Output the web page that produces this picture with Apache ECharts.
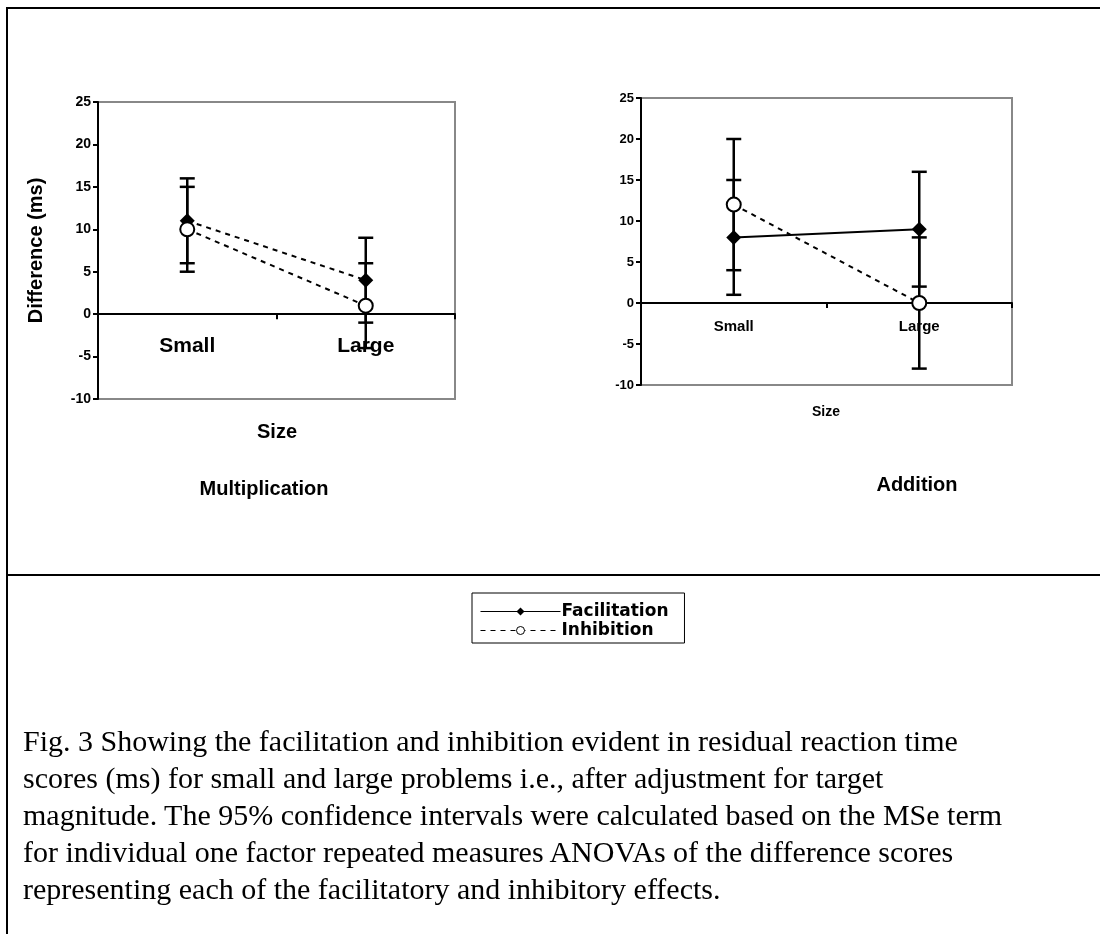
<!DOCTYPE html>
<html>
<head>
<meta charset="utf-8">
<script src="https://cdn.jsdelivr.net/npm/echarts@6/dist/echarts.min.js"></script>
<style>
html, body { margin: 0; padding: 0; background: #fff; }
#page { position: relative; width: 1100px; height: 934px; overflow: hidden; }
#chart { position: absolute; left: 0; top: 0; width: 1100px; height: 934px; }
.rule { position: absolute; background: #000; }
#caption {
    position: absolute; left: 23px; top: 722px; width: 1070px;
    font-family: "Liberation Serif", "Times New Roman", serif;
    font-size: 30px; line-height: 37px; color: #000;
}
</style>
</head>
<body>
<div id="page">
    <div class="rule" style="left:6px;top:7px;width:1094px;height:2px;"></div>
    <div class="rule" style="left:6px;top:7px;width:2px;height:927px;"></div>
    <div class="rule" style="left:6px;top:574px;width:1094px;height:2px;"></div>
    <div id="chart"></div>
    <div id="caption">Fig. 3 Showing the facilitation and inhibition evident in residual reaction time<br>scores (ms) for small and large problems i.e., after adjustment for target<br>magnitude. The 95% confidence intervals were calculated based on the MSe term<br>for individual one factor repeated measures ANOVAs of the difference scores<br>representing each of the facilitatory and inhibitory effects.</div>
</div>
<script>
// data
var sizes = ['Small', 'Large'];
var mulFacil = [11, 4];
var mulInhib = [10, 1];
var mulFacilCI = [5, 5];
var mulInhibCI = [5, 5];
var addFacil = [8, 9];
var addInhib = [12, 0];
var addFacilCI = [7, 7];
var addInhibCI = [8, 8];
var yMin = -10, yMax = 25, yStep = 5;

var sans = '"Liberation Sans", Arial, sans-serif';

function bars(values, ci) {
    return values.map(function (v, i) { return [i, v - ci[i], v + ci[i]]; });
}

function errorBar(params, api) {
    var top = api.coord([api.value(0), api.value(2)]);
    var bot = api.coord([api.value(0), api.value(1)]);
    var w = 7.5;
    var st = { stroke: '#000', lineWidth: 2.5 };
    return {
        type: 'group',
        children: [
            { type: 'line', shape: { x1: top[0], y1: top[1], x2: bot[0], y2: bot[1] }, style: st },
            { type: 'line', shape: { x1: top[0] - w, y1: top[1], x2: top[0] + w, y2: top[1] }, style: st },
            { type: 'line', shape: { x1: bot[0] - w, y1: bot[1], x2: bot[0] + w, y2: bot[1] }, style: st }
        ]
    };
}

function xAx(grid, size, margin) {
    return {
        type: 'category', gridIndex: grid, data: sizes,
        axisLine: { onZero: true, lineStyle: { color: '#000', width: 2 } },
        axisTick: { show: true, length: 5, lineStyle: { color: '#000', width: 2 } },
        axisLabel: { color: '#000', fontWeight: 'bold', fontSize: size, fontFamily: sans, margin: margin },
        splitLine: { show: false }
    };
}

function yAx(grid, size, name) {
    return {
        type: 'value', gridIndex: grid, min: yMin, max: yMax, interval: yStep,
        name: name, nameLocation: 'middle', nameRotate: 90, nameGap: 52,
        nameTextStyle: { color: '#000', fontWeight: 'bold', fontSize: 20, fontFamily: sans },
        axisLine: { show: true, onZero: false, lineStyle: { color: '#000', width: 2 } },
        axisTick: { show: true, length: 5, lineStyle: { color: '#000', width: 2 } },
        axisLabel: { color: '#000', fontWeight: 'bold', fontSize: size, fontFamily: sans, margin: 7 },
        splitLine: { show: false }
    };
}

function lineSeries(name, grid, values, symbol, size, dashed) {
    return {
        name: name, type: 'line', xAxisIndex: grid, yAxisIndex: grid, data: values,
        symbol: symbol, symbolSize: size, z: 5,
        lineStyle: { color: '#000', width: 2, type: dashed ? [5, 5] : 'solid' },
        itemStyle: symbol === 'diamond'
            ? { color: '#000' }
            : { color: '#fff', borderColor: '#000', borderWidth: 2 }
    };
}

function barSeries(grid, values, ci) {
    return {
        type: 'custom', xAxisIndex: grid, yAxisIndex: grid, z: 2,
        data: bars(values, ci), renderItem: errorBar,
        encode: { x: 0, y: [1, 2] }, silent: true
    };
}

var chart = echarts.init(document.getElementById('chart'));
chart.setOption({
    animation: false,
    grid: [
        { left: 98, top: 102, width: 357, height: 297, show: true, borderColor: '#888', borderWidth: 2 },
        { left: 641, top: 98, width: 371, height: 287, show: true, borderColor: '#888', borderWidth: 2 }
    ],
    xAxis: [xAx(0, 21, -63), xAx(1, 15, -66)],
    yAxis: [yAx(0, 14, 'Difference (ms)'), yAx(1, 13, '')],
    title: [
        { text: 'Size', left: 277, top: 422, textAlign: 'center', textStyle: { fontSize: 20, fontWeight: 'bold', fontFamily: sans, color: '#000' }, padding: 0 },
        { text: 'Multiplication', left: 264, top: 479, textAlign: 'center', textStyle: { fontSize: 20, fontWeight: 'bold', fontFamily: sans, color: '#000' }, padding: 0 },
        { text: 'Size', left: 826, top: 405, textAlign: 'center', textStyle: { fontSize: 14, fontWeight: 'bold', fontFamily: sans, color: '#000' }, padding: 0 },
        { text: 'Addition', left: 917, top: 475, textAlign: 'center', textStyle: { fontSize: 20, fontWeight: 'bold', fontFamily: sans, color: '#000' }, padding: 0 }
    ],
    legend: {
        data: ['Facilitation', 'Inhibition'],
        orient: 'vertical', left: 472, top: 593,
        padding: [9, 16, 3, 8], itemGap: 0,
        itemWidth: 80, itemHeight: 10,
        borderColor: '#000', borderWidth: 1,
        lineStyle: { width: 1 },
        itemStyle: { borderWidth: 1 },
        textStyle: { color: '#000', fontWeight: 'bold', fontSize: 17, lineHeight: 19, fontFamily: '"DejaVu Sans", sans-serif', padding: [0, 0, 0, -4] }
    },
    series: [
        lineSeries('Facilitation', 1, addFacil, 'diamond', 15, false),
        lineSeries('Inhibition', 1, addInhib, 'circle', 14, true),
        lineSeries('Facilitation', 0, mulFacil, 'diamond', 15, true),
        lineSeries('Inhibition', 0, mulInhib, 'circle', 14, true),
        barSeries(1, addFacil, addFacilCI),
        barSeries(1, addInhib, addInhibCI),
        barSeries(0, mulFacil, mulFacilCI),
        barSeries(0, mulInhib, mulInhibCI)
    ]
});
</script>
</body>
</html>
